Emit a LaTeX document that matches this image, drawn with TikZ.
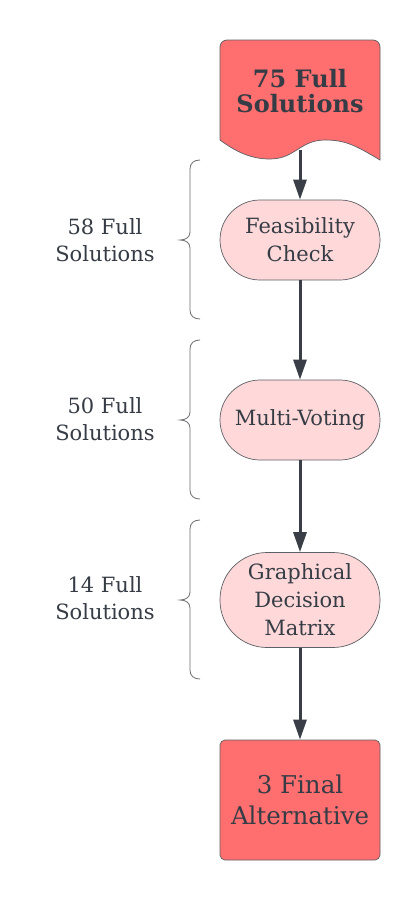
\documentclass[tikz,border=0pt]{standalone}
\usepackage{fontspec}
\setmainfont{DejaVu Serif}
\usetikzlibrary{arrows.meta}
\definecolor{txt}{HTML}{363C45}
\definecolor{bordergray}{HTML}{5E5E66}
\definecolor{redfill}{HTML}{FF6F6F}
\definecolor{pinkfill}{HTML}{FFD9D9}
\definecolor{arrowcol}{HTML}{3A3F47}
\definecolor{bracecol}{HTML}{6E6E74}
\tikzset{
  proc/.style={rectangle, rounded corners=40pt, draw=bordergray, line width=0.7pt, fill=pinkfill,
    minimum width=160pt, minimum height=80pt, inner sep=0pt, align=center, text=txt,
    font=\fontsize{21}{28}\selectfont},
  finalbox/.style={rectangle, rounded corners=5pt, draw=bordergray, line width=0.7pt, fill=redfill,
    minimum width=160pt, minimum height=120pt, inner sep=0pt, align=center, text=txt,
    font=\fontsize{24.5}{31}\selectfont},
  sidelabel/.style={align=center, text=txt, inner sep=0pt, font=\fontsize{21}{27}\selectfont},
  flow/.style={draw=arrowcol, line width=3pt, -{Triangle[width=13pt,length=20pt]}},
  bracepath/.style={draw=bracecol, line width=0.8pt},
}
\begin{document}
\begin{tikzpicture}[x=1pt,y=-1pt]
\useasboundingbox (0,0) rectangle (420,900);
\fill[white] (0,0) rectangle (420,900);
% document shape
\draw[draw=bordergray, line width=0.7pt, fill=redfill]
  (220,140) -- (220,47) arc[start angle=180, end angle=90, radius=7pt] -- (373,40)
  arc[start angle=90, end angle=0, radius=7pt] -- (380,160)
  .. controls (355,145) and (345,140) .. (325,140)
  .. controls (300,140) and (295,159) .. (270,159)
  .. controls (250,159) and (235,151) .. (220,140) -- cycle;
\node[align=center, text=txt, inner sep=0pt, font=\fontsize{24}{25}\selectfont\bfseries] (doc) at (300,91) {75 Full\\Solutions};
\coordinate (docb) at (300,150);
% process nodes
\node[proc] (feas) at (300,240) {Feasibility\\Check};
\node[proc] (vote) at (300,420) {Multi-Voting};
\node[proc, minimum height=95pt, rounded corners=47pt] (gdm) at (300,600) {Graphical\\Decision\\Matrix};
\node[finalbox] (final) at (300,800) {3 Final\\Alternative};
% connectors
\draw[flow] (docb) -- (feas.north);
\draw[flow] (feas.south) -- (vote.north);
\draw[flow] (vote.south) -- (gdm.north);
\draw[flow] (gdm.south) -- (final.north);
% braces
\foreach \t/\m/\b in {160/240/319, 340/420/499, 520/600/679}{
  \draw[bracepath] (200,\t) .. controls (194,\t) and (190,\t+3) .. (190,\t+9)
    -- (190,\m-8) .. controls (190,\m-3) and (186,\m) .. (180,\m)
    .. controls (186,\m) and (190,\m+3) .. (190,\m+8)
    -- (190,\b-9) .. controls (190,\b-3) and (194,\b) .. (200,\b);
}
% side labels
\node[sidelabel] (l1) at (105,240) {58 Full\\Solutions};
\node[sidelabel] (l2) at (105,419) {50 Full\\Solutions};
\node[sidelabel] (l3) at (105,598) {14 Full\\Solutions};
\end{tikzpicture}
\end{document}
